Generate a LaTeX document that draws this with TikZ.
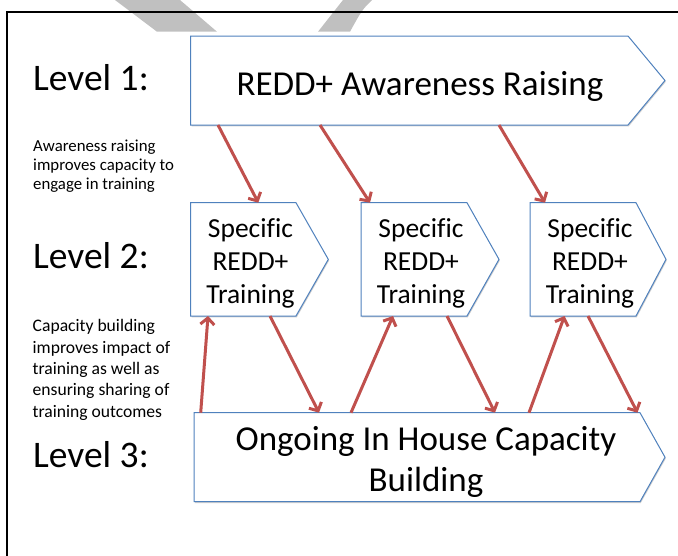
\documentclass[tikz,border=0pt]{standalone}
\usepackage{fontspec}
\setmainfont{Carlito}[Ligatures=NoCommon]
\usetikzlibrary{arrows.meta,calc,shadows}

\definecolor{chevblue}{HTML}{4F81BD}
\definecolor{linkred}{HTML}{C0504D}
\definecolor{markgrey}{HTML}{C0C0C0}

\begin{document}
\begin{tikzpicture}[x=1pt,y=-1pt,
  chev/.style={draw=none,inner sep=0pt,outer sep=0pt},
  chevline/.style={draw=chevblue,line width=1pt,fill=white,line join=miter,
    drop shadow={shadow xshift=0.8pt,shadow yshift=-1.3pt,opacity=0.35,fill=black!55}},
  link/.style={draw=linkred,line width=3pt,-{Straight Barb[length=6.5pt,width=14pt]}},
  levellabel/.style={anchor=base west,inner sep=0pt,font=\fontsize{37.5}{45}\selectfont},
  notetext/.style={anchor=base west,inner sep=0pt,align=left},
  bigtext/.style={anchor=base,inner sep=0pt,align=center,font=\fontsize{35}{41.7}\selectfont},
  steptext/.style={anchor=base,inner sep=0pt,align=center,font=\fontsize{27.5}{33}\selectfont}
]
\useasboundingbox (0,0) rectangle (678,555);

% faint watermark strokes along the top edge
\fill[markgrey] (115,0) -- (180,0) -- (217,31.7) -- (157,31.7) -- cycle;
\fill[markgrey] (343,0) -- (372,0) .. controls (362,10) .. (350,31.7) -- (318,31.7) -- cycle;

% page frame
\draw[line width=2pt,line join=miter] (6.7,560) -- (6.7,12) -- (690,12);

% chevron areas (full width, pointer included)
\node[chev,minimum width=474.3pt,minimum height=89pt]  (aw)  at (427.85,80.5) {};
\node[chev,minimum width=137.6pt,minimum height=113.3pt] (tr1) at (259.5,259.35) {};
\node[chev,minimum width=138pt,minimum height=113.3pt]   (tr2) at (430,259.35) {};
\node[chev,minimum width=136pt,minimum height=113.3pt]   (tr3) at (598,259.35) {};
\node[chev,minimum width=471pt,minimum height=89pt]    (cb)  at (429.5,457.2) {};

% chevron outlines
\path[chevline] (aw.north west) -- ([xshift=-37pt]aw.north east) -- (aw.east)
  -- ([xshift=-37pt]aw.south east) -- (aw.south west) -- cycle;
\path[chevline] (tr1.north west) -- ([xshift=-32.3pt]tr1.north east) -- (tr1.east)
  -- ([xshift=-32.3pt]tr1.south east) -- (tr1.south west) -- cycle;
\path[chevline] (tr2.north west) -- ([xshift=-32pt]tr2.north east) -- (tr2.east)
  -- ([xshift=-32pt]tr2.south east) -- (tr2.south west) -- cycle;
\path[chevline] (tr3.north west) -- ([xshift=-30pt]tr3.north east) -- (tr3.east)
  -- ([xshift=-30pt]tr3.south east) -- (tr3.south west) -- cycle;
\path[chevline] (cb.north west) -- ([xshift=-25pt]cb.north east) -- (cb.east)
  -- ([xshift=-25pt]cb.south east) -- (cb.south west) -- cycle;

% chevron texts (base anchor sits on the last line)
\node[bigtext] (awt) at (420,95) {REDD+ Awareness Raising};
\node[steptext] (tr1t) at (250.5,303.5) {Specific\\REDD+\\Training};
\node[steptext] (tr2t) at (421,303.5) {Specific\\REDD+\\Training};
\node[steptext] (tr3t) at (590,303.5) {Specific\\REDD+\\Training};
\node[bigtext] (cbt) at (426,491.7) {Ongoing In House Capacity\\Building};

% level labels
\node[levellabel] (lv1) at (33,90) {Level 1:};
\node[levellabel] (lv2) at (33,268) {Level 2:};
\node[levellabel] (lv3) at (33,467) {Level 3:};

% side notes
\node[notetext,font=\fontsize{16.8}{19}\selectfont] (note1) at (33,189)
  {Awareness raising\\improves capacity to\\engage in training};
\node[notetext,font=\fontsize{17.6}{21.3}\selectfont] (note2) at (32.5,417)
  {Capacity building\\improves impact of\\training as well as\\ensuring sharing of\\training outcomes};

% level 1 -> level 2
\draw[link] ([xshift=27.3pt]aw.south west) -- ([xshift=67.6pt]tr1.north west);
\draw[link] ([xshift=129.3pt]aw.south west) -- ([xshift=9pt]tr2.north west);
\draw[link] ([xshift=308.3pt]aw.south west) -- ([xshift=15pt]tr3.north west);

% level 3 <-> level 2
\draw[link] ([xshift=6.7pt]cb.north west) -- ([xshift=17.3pt]tr1.south west);
\draw[link] ([xshift=79.3pt]tr1.south west) -- ([xshift=125pt]cb.north west);
\draw[link] ([xshift=157pt]cb.north west) -- ([xshift=32pt]tr2.south west);
\draw[link] ([xshift=86pt]tr2.south west) -- ([xshift=301pt]cb.north west);
\draw[link] ([xshift=335pt]cb.north west) -- ([xshift=34.5pt]tr3.south west);
\draw[link] ([xshift=58pt]tr3.south west) -- ([xshift=443.5pt]cb.north west);
\end{tikzpicture}
\end{document}
